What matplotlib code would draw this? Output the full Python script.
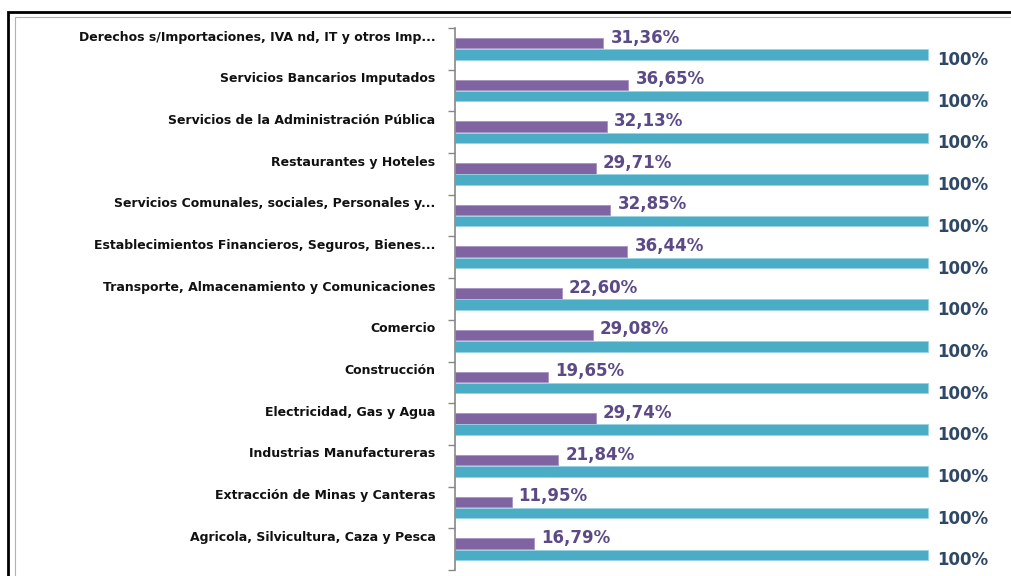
import matplotlib
matplotlib.use("Agg")
import matplotlib.pyplot as plt
from matplotlib.patches import Rectangle
import numpy as np

categories = [
    "Derechos s/Importaciones, IVA nd, IT y otros Imp...",
    "Servicios Bancarios Imputados",
    "Servicios de la Administración Pública",
    "Restaurantes y Hoteles",
    "Servicios Comunales, sociales, Personales y...",
    "Establecimientos Financieros, Seguros, Bienes...",
    "Transporte, Almacenamiento y Comunicaciones",
    "Comercio",
    "Construcción",
    "Electricidad, Gas y Agua",
    "Industrias Manufactureras",
    "Extracción de Minas y Canteras",
    "Agricola, Silvicultura, Caza y Pesca",
]
share = [31.36, 36.65, 32.13, 29.71, 32.85, 36.44, 22.60, 29.08, 19.65, 29.74, 21.84, 11.95, 16.79]
total = [100] * 13

W, H = 1012, 576
fig = plt.figure(figsize=(W / 100, H / 100), dpi=100)

# outer frame
fig.patches.append(Rectangle((8 / W, -0.1), 1.2, 1 - 12 / H + 0.1, transform=fig.transFigure,
                             fill=False, edgecolor="black", linewidth=2.0, zorder=0))
fig.patches.append(Rectangle((15 / W, -0.1), 1.2, 1 - 17 / H + 0.1, transform=fig.transFigure,
                             fill=False, edgecolor="#b0b0b0", linewidth=0.8, zorder=0))

left_px, right_px, top_px, bot_px = 455, 1000, 28, 570
ax = fig.add_axes([left_px / W, (H - bot_px) / H, (right_px - left_px) / W, (bot_px - top_px) / H])
ax.set_facecolor("none")

n = len(categories)
y = np.arange(n)
bh = 0.25
purple = "#8064a2"
teal = "#4bacc6"
ax.barh(y - bh / 2 - 0.01, share, height=bh, color=purple, edgecolor="#a893c4", linewidth=0.6)
ax.barh(y + bh / 2 + 0.01, total, height=bh, color=teal, edgecolor="#9ad3e3", linewidth=0.6)

for i in range(n):
    ax.text(share[i] + 1.5, y[i] - bh - 0.02, f"{share[i]:.2f}%".replace(".", ","),
            ha="left", va="center", fontsize=12, fontweight="bold", color="#5b4a86")
    ax.text(total[i] + 2.0, y[i] + bh + 0.02, f"{total[i]}%",
            ha="left", va="center", fontsize=12, fontweight="bold", color="#2f4866")

ax.set_xlim(0, (right_px - left_px) / 4.73)
ax.set_ylim(n - 0.5, -0.5)
ax.set_xticks([])
ax.set_yticks(np.arange(n + 1) - 0.5, minor=True)
ax.set_yticks(y - 0.32)
ax.set_yticklabels(categories, fontsize=9, fontweight="bold", color="#111111")
ax.tick_params(axis="y", which="major", length=0, pad=14)
ax.tick_params(axis="y", which="minor", length=5, color="#888888", width=1)
for s in ["top", "right", "bottom"]:
    ax.spines[s].set_visible(False)
ax.spines["left"].set_color("#888888")
ax.spines["left"].set_linewidth(1.2)

fig.savefig("out.png", dpi=100)
